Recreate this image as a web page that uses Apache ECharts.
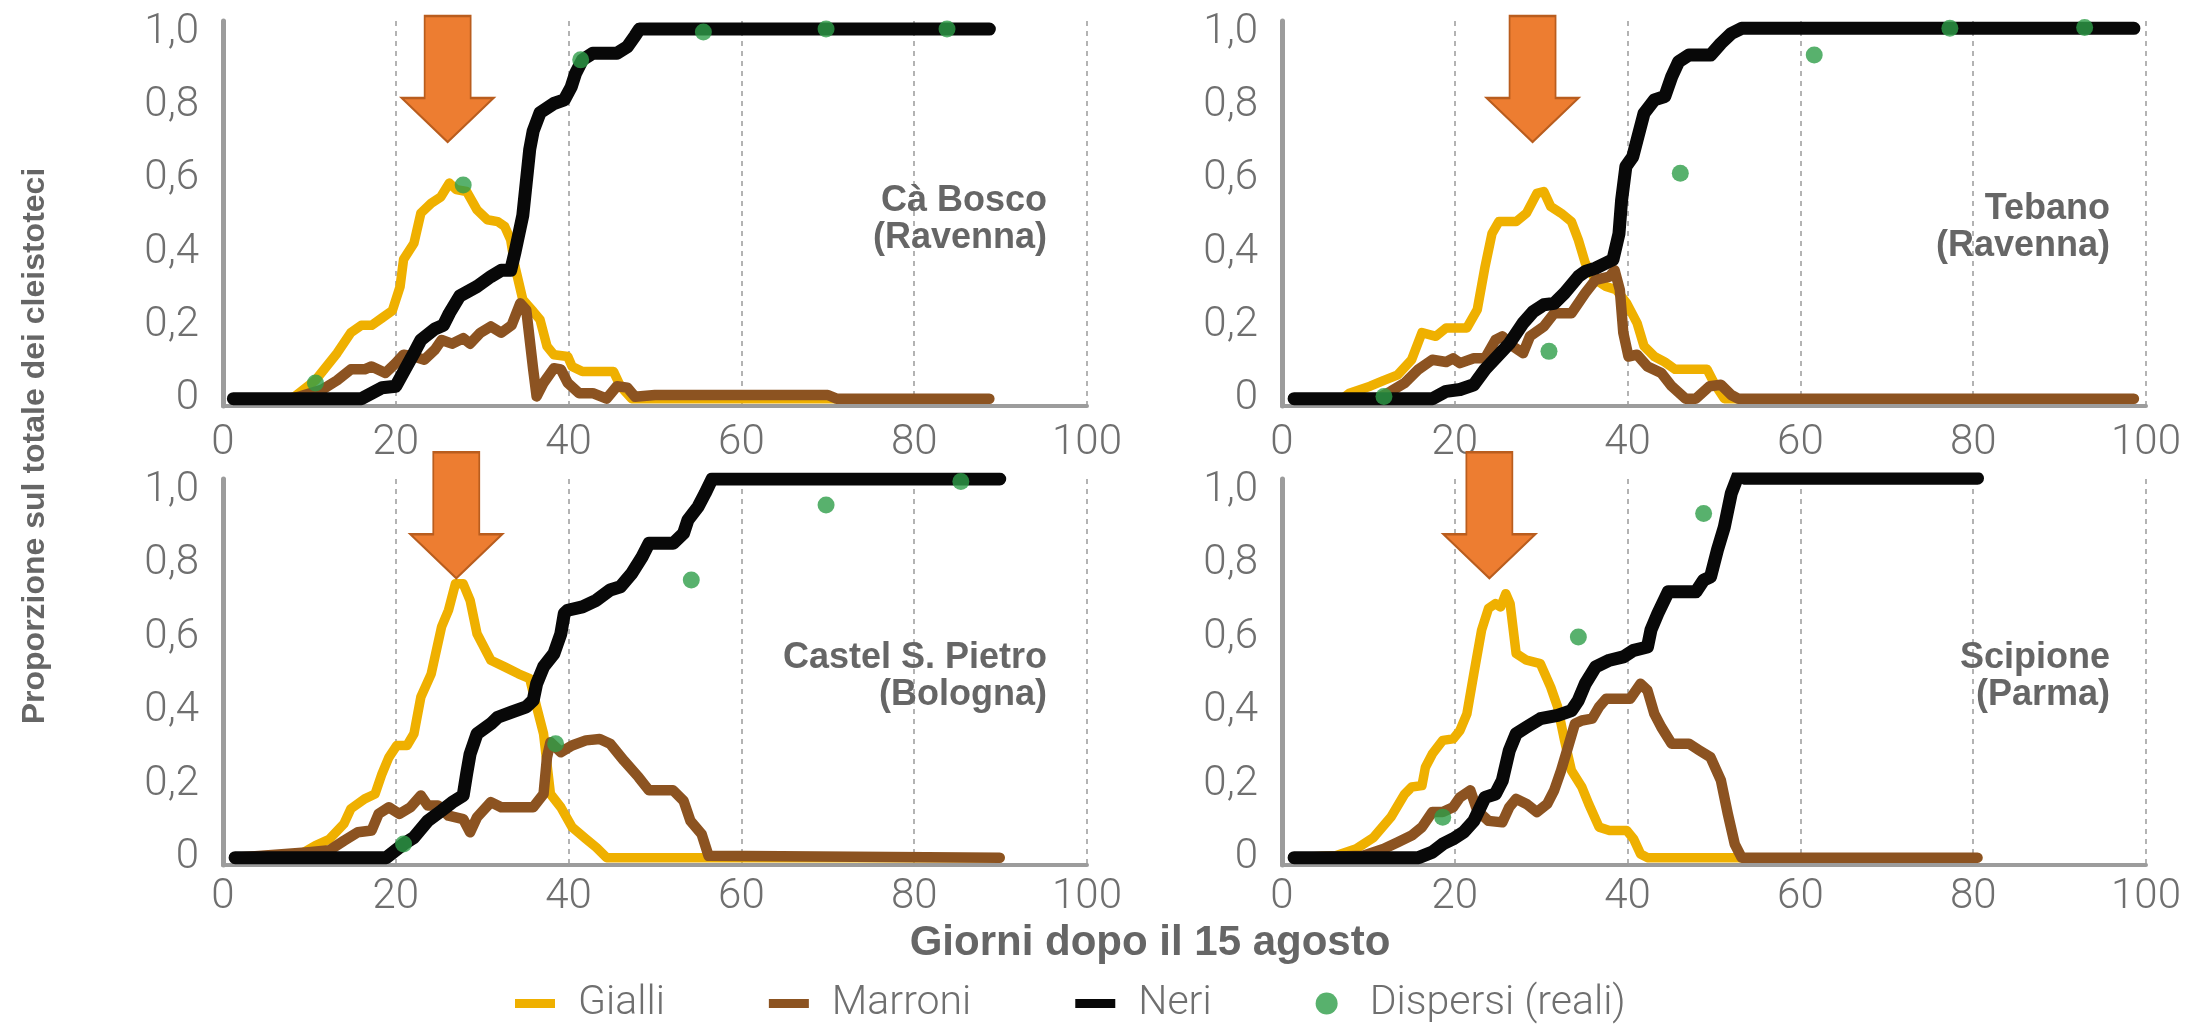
<!DOCTYPE html>
<html><head><meta charset="utf-8">
<script src="https://cdn.jsdelivr.net/npm/echarts@6/dist/echarts.min.js"></script>
<style>html,body{margin:0;padding:0;background:#fff}#c{width:2188px;height:1024px}</style>
</head><body><div id="c"></div>
<script>
// ---------------- DATA ----------------
const panelNames = ['Cà Bosco\n(Ravenna)', 'Tebano\n(Ravenna)', 'Castel S. Pietro\n(Bologna)', 'Scipione\n(Parma)'];
const seriesNames = ['Gialli', 'Marroni', 'Neri', 'Dispersi (reali)'];
const xTicks = [0, 20, 40, 60, 80, 100];
const yTicks = [0, 0.2, 0.4, 0.6, 0.8, 1.0];

// Cà Bosco (Ravenna)
const caBoscoGialli = [[1.2,0],[7.5,0],[8.3,0.006],[10.7,0.05],[13.2,0.124],[14.8,0.18],[16,0.2],[17.2,0.2],[18.4,0.22],[19.6,0.24],[20.5,0.306],[20.9,0.38],[22.1,0.424],[22.9,0.506],[24.1,0.533],[25.2,0.55],[26.2,0.588],[27,0.57],[28.2,0.565],[29.4,0.515],[30.6,0.488],[31.8,0.483],[32.6,0.47],[33.3,0.433],[33.8,0.36],[34.7,0.27],[35.9,0.238],[36.7,0.215],[37.5,0.143],[38.3,0.12],[39.9,0.115],[40.4,0.088],[41.6,0.074],[45.2,0.074],[46,0.034],[47.3,0],[88.7,0]];
const caBoscoMarroni = [[1.2,0],[8,0],[11.5,0.025],[13.2,0.05],[14.8,0.08],[16.4,0.08],[17.2,0.088],[18.8,0.07],[20,0.097],[20.9,0.12],[22.1,0.115],[23.3,0.106],[24.5,0.133],[25.3,0.16],[26.5,0.15],[27.8,0.165],[28.6,0.15],[29.8,0.18],[31,0.197],[32.2,0.18],[33.4,0.2],[34.4,0.26],[35.1,0.242],[35.9,0.08],[36.3,0.006],[37.1,0.043],[38.3,0.083],[39.1,0.08],[39.9,0.043],[41.2,0.015],[42.8,0.015],[44.4,0],[45.6,0.034],[46.8,0.03],[47.7,0.005],[50,0.01],[70,0.01],[71,0],[88.7,0]];
const caBoscoNeri = [[1.2,0],[16,0],[18.4,0.03],[20,0.034],[22.1,0.124],[22.9,0.16],[24.5,0.19],[25.5,0.2],[26.2,0.233],[27.4,0.28],[29.4,0.306],[31,0.333],[32.2,0.35],[33.3,0.35],[33.8,0.4],[34.7,0.5],[35.5,0.68],[35.9,0.73],[36.7,0.78],[38.3,0.805],[39.5,0.815],[40.3,0.85],[40.8,0.887],[41.6,0.924],[42.8,0.942],[45.6,0.942],[46.8,0.96],[47.7,0.99],[48.2,1.008],[88.7,1.008]];
const caBoscoDispersi = [[10.7,0.043],[27.8,0.583],[41.4,0.924],[55.6,1.0],[69.8,1.008],[83.8,1.008]];

// Tebano (Ravenna)
const tebanoGialli = [[1.4,0],[7,0],[7.8,0.015],[10.2,0.034],[11.8,0.05],[13.4,0.065],[15,0.106],[16.2,0.18],[17.8,0.17],[19,0.193],[21.4,0.193],[22.6,0.243],[23.5,0.36],[24.3,0.45],[25.1,0.483],[27.1,0.483],[28.3,0.506],[29.5,0.56],[30.3,0.565],[31.1,0.524],[32.3,0.506],[33.5,0.483],[34.3,0.433],[35.1,0.37],[36.3,0.324],[37.5,0.306],[38.7,0.297],[39.9,0.26],[41.1,0.206],[41.9,0.143],[43.1,0.115],[44.3,0.1],[45.5,0.08],[49.2,0.08],[50,0.043],[51.2,0],[98.6,0]];
const tebanoMarroni = [[1.4,0],[11,0],[12.6,0.02],[14.2,0.043],[15.8,0.08],[17.4,0.106],[19,0.1],[19.8,0.11],[20.6,0.097],[22.2,0.11],[23.5,0.11],[24.7,0.16],[25.5,0.17],[26.7,0.143],[27.9,0.124],[28.7,0.17],[30.3,0.197],[31.5,0.233],[33.5,0.233],[35.1,0.288],[36.3,0.324],[37.9,0.333],[38.5,0.35],[39.1,0.297],[39.5,0.18],[40.1,0.115],[41.1,0.12],[42.3,0.088],[43.9,0.07],[45.1,0.034],[46.7,0],[47.9,0],[49.5,0.034],[50.8,0.038],[52,0.01],[52.8,0],[98.6,0]];
const tebanoNeri = [[1.4,0],[17.4,0],[19,0.02],[20.6,0.025],[22.2,0.038],[23.5,0.08],[24.7,0.11],[26.3,0.15],[27.9,0.206],[29.1,0.238],[30.3,0.256],[31.5,0.26],[32.7,0.288],[34.3,0.333],[35.1,0.347],[36.3,0.356],[37.5,0.37],[38.3,0.379],[39,0.45],[39.3,0.54],[39.8,0.633],[40.6,0.66],[41.1,0.706],[41.9,0.778],[43.1,0.815],[44.3,0.824],[45.1,0.878],[45.9,0.919],[47.1,0.937],[49.6,0.937],[50.8,0.969],[52,0.996],[53.2,1.01],[98.6,1.01]];
const tebanoDispersi = [[11.8,0.006],[30.9,0.129],[46.1,0.615],[61.6,0.937],[77.3,1.01],[92.9,1.012]];

// Castel S. Pietro (Bologna)
const castelGialli = [[1.4,0],[8.3,0],[10.7,0.033],[12.3,0.05],[14,0.092],[14.8,0.133],[16.4,0.16],[17.6,0.173],[18.4,0.228],[19.2,0.273],[20.1,0.305],[21.3,0.305],[22.1,0.337],[22.9,0.437],[24.1,0.5],[25.3,0.628],[26.1,0.673],[26.9,0.745],[27.8,0.745],[28.6,0.7],[29.4,0.609],[31,0.537],[32.6,0.519],[34.2,0.5],[35.5,0.487],[36.3,0.41],[37.1,0.337],[37.9,0.173],[39.1,0.137],[40.4,0.083],[42,0.051],[43.2,0.028],[44.4,0],[89.9,0]];
const castelMarroni = [[1.4,0],[9.9,0.015],[12.3,0.02],[14,0.046],[15.6,0.069],[17.2,0.074],[18,0.119],[19.2,0.137],[20.4,0.119],[21.7,0.137],[22.9,0.169],[23.7,0.142],[24.9,0.142],[26.1,0.114],[27.8,0.105],[28.6,0.069],[29.4,0.11],[31,0.151],[32.2,0.137],[35.9,0.137],[37.1,0.173],[37.5,0.273],[37.9,0.314],[39.1,0.287],[40.4,0.305],[42,0.319],[43.6,0.323],[44.8,0.31],[46.4,0.264],[48.1,0.219],[49.3,0.183],[52.1,0.183],[53.3,0.155],[54.1,0.1],[55.4,0.064],[56.2,0.005],[89.9,0]];
const castelNeri = [[1.4,0],[18.9,0],[20.9,0.037],[22.1,0.055],[23.7,0.1],[25.3,0.128],[26.5,0.15],[27.8,0.169],[28.2,0.228],[28.6,0.282],[29.4,0.337],[31,0.364],[31.8,0.382],[33.4,0.396],[35.1,0.41],[35.9,0.428],[36.3,0.473],[37.1,0.519],[38.3,0.555],[39.1,0.609],[39.5,0.664],[39.9,0.673],[41.6,0.682],[43.2,0.7],[44.8,0.728],[46,0.737],[47.3,0.773],[48.5,0.818],[49.3,0.855],[52.1,0.855],[53.3,0.882],[53.8,0.918],[55,0.955],[55.8,0.991],[56.6,1.03],[89.9,1.03]];
const castelDispersi = [[20.9,0.037],[38.5,0.31],[54.2,0.755],[69.8,0.959],[85.4,1.023]];

// Scipione (Parma)
const scipioneGialli = [[1.4,0],[6.2,0.005],[8.6,0.024],[10.6,0.055],[12.6,0.11],[14.2,0.173],[15,0.192],[16.2,0.196],[16.6,0.246],[17.4,0.282],[18.6,0.319],[19.8,0.323],[20.6,0.346],[21.4,0.391],[22.2,0.5],[23.1,0.619],[23.9,0.678],[24.7,0.691],[25.3,0.682],[25.9,0.718],[26.4,0.691],[27.1,0.555],[28.3,0.537],[29.9,0.528],[31.1,0.464],[31.9,0.41],[32.7,0.319],[33.5,0.237],[34.7,0.192],[35.5,0.146],[36.7,0.083],[37.9,0.074],[39.9,0.074],[40.7,0.051],[41.5,0.01],[42.3,0],[80.5,0]];
const scipioneMarroni = [[1.4,0],[9.4,0.005],[11.8,0.024],[13.4,0.042],[15,0.06],[16.2,0.083],[17.4,0.124],[18.6,0.124],[19.8,0.137],[20.6,0.164],[21.8,0.183],[22.6,0.128],[23.9,0.1],[25.5,0.096],[26.3,0.137],[27.1,0.16],[28.3,0.146],[29.5,0.124],[30.7,0.146],[31.5,0.183],[32.3,0.237],[33.1,0.3],[33.9,0.364],[34.7,0.373],[35.9,0.378],[36.7,0.41],[37.5,0.432],[40.3,0.432],[41.5,0.473],[42.3,0.455],[43.1,0.391],[43.9,0.355],[45.1,0.31],[47.1,0.31],[48.3,0.292],[49.6,0.273],[50.8,0.21],[51.6,0.119],[52.4,0.037],[53.2,0],[80.5,0]];
const scipioneNeri = [[1.4,0],[15.8,0],[17.4,0.015],[18.6,0.037],[19.8,0.051],[21,0.069],[22.2,0.1],[23.5,0.164],[24.7,0.173],[25.5,0.21],[26.3,0.291],[27.1,0.337],[28.3,0.355],[29.9,0.378],[31.9,0.387],[33.5,0.4],[34.3,0.428],[35.1,0.473],[36.3,0.519],[37.9,0.537],[39.5,0.546],[40.7,0.564],[42.3,0.573],[42.7,0.619],[43.5,0.664],[44.7,0.723],[47.9,0.723],[48.8,0.755],[49.6,0.764],[50.4,0.837],[51.2,0.9],[52,0.991],[52.8,1.04],[53.6,1.032],[80.5,1.032]];
const scipioneDispersi = [[18.6,0.11],[34.3,0.6],[48.8,0.936],[62.8,1.032],[76.7,1.032]];

// orange arrows: day where the arrow points, and value of its tip
const arrowDays = [26, 29, 27, 24];
const arrowTips = [0.70, 0.70, 0.76, 0.76];

// ---------------- CHART ----------------
const panels = [
  [caBoscoGialli, caBoscoMarroni, caBoscoNeri, caBoscoDispersi],
  [tebanoGialli, tebanoMarroni, tebanoNeri, tebanoDispersi],
  [castelGialli, castelMarroni, castelNeri, castelDispersi],
  [scipioneGialli, scipioneMarroni, scipioneNeri, scipioneDispersi]
];
const colors = ['#EFB000', '#8C5321', '#080808', '#2E9E48'];
const widths = [9.5, 10.5, 13];
const gridBoxes = [
  {left: 223, top: 21, width: 864, height: 385},
  {left: 1282, top: 21, width: 864, height: 385},
  {left: 223, top: 479, width: 864, height: 386},
  {left: 1282, top: 479, width: 864, height: 386}
];
const labelMargins = [16, 16, 11, 11];
const labelPos = [[1047, 220], [2110, 228], [1047, 677], [2110, 677]];
const tickColor = '#6f6f6f';
const titleColor = '#666666';
const axisGray = '#9c9c9c';
const arrowPath = 'path://M23,0 L69,0 L69,82 L92,82 L46,126 L0,82 L23,82 Z';

const grid = [], xAxis = [], yAxis = [], series = [], graphic = [];
gridBoxes.forEach((g, i) => {
  grid.push(Object.assign({containLabel: false}, g));
  xAxis.push({
    type: 'value', gridIndex: i, min: xTicks[0], max: xTicks[xTicks.length - 1], interval: 20,
    axisLine: {show: true, onZero: false, lineStyle: {color: axisGray, width: 4}},
    axisTick: {show: false},
    axisLabel: {fontSize: 42, fontFamily: 'Roboto', fontWeight: 300, color: tickColor, margin: labelMargins[i]},
    splitLine: {show: true, lineStyle: {color: '#9a9a9a', width: 1.5, type: [5, 5]}}
  });
  yAxis.push({
    type: 'value', gridIndex: i, min: -0.02, max: 1.03,
    axisLine: {show: true, onZero: false, lineStyle: {color: axisGray, width: 5}},
    axisTick: {show: false},
    axisLabel: {customValues: yTicks, fontSize: 42, fontFamily: 'Roboto', fontWeight: 300, color: tickColor, margin: 24,
      formatter: v => v === 0 ? '0' : v.toFixed(1).replace('.', ',')},
    splitLine: {show: false}
  });
  panels[i].forEach((d, k) => {
    if (k < 3) {
      const s = {
        type: 'line', name: seriesNames[k], xAxisIndex: i, yAxisIndex: i, data: d,
        showSymbol: false, symbol: 'none', color: colors[k], z: 2 + k,
        lineStyle: {color: colors[k], width: widths[k], cap: 'round', join: 'round'}
      };
      if (k === 0) {
        s.markPoint = {
          symbol: arrowPath, symbolSize: [92, 126], symbolOffset: [0, '-50%'], z: 10,
          itemStyle: {color: '#ED7D31', borderColor: '#B95D1E', borderWidth: 2},
          label: {show: false}, silent: true,
          data: [{coord: [arrowDays[i], arrowTips[i]]}]
        };
      }
      series.push(s);
    } else {
      series.push({
        type: 'scatter', name: seriesNames[k], xAxisIndex: i, yAxisIndex: i, data: d,
        symbol: 'circle', symbolSize: 17, color: colors[k], z: 6,
        itemStyle: {color: colors[k]}
      });
    }
  });
  graphic.push({
    type: 'text', x: labelPos[i][0], y: labelPos[i][1], z: 20,
    style: {text: panelNames[i], fill: titleColor, fontFamily: 'Liberation Sans', fontWeight: 'bold', fontSize: 36,
      lineHeight: 37, align: 'right', verticalAlign: 'middle', textAlign: 'right', textVerticalAlign: 'middle'}
  });
});

graphic.push({
  type: 'text', x: 35, y: 446, rotation: Math.PI / 2, z: 20,
  style: {text: 'Proporzione sul totale dei cleistoteci', fill: titleColor, fontFamily: 'Liberation Sans', fontWeight: 'bold', fontSize: 32,
    align: 'center', verticalAlign: 'middle', textAlign: 'center', textVerticalAlign: 'middle'}
});
graphic.push({
  type: 'text', x: 1150, y: 943, z: 20,
  style: {text: 'Giorni dopo il 15 agosto', fill: titleColor, fontFamily: 'Liberation Sans', fontWeight: 'bold', fontSize: 42,
    align: 'center', verticalAlign: 'middle', textAlign: 'center', textVerticalAlign: 'middle'}
});

const linePath = 'path://M0,0 L40,0 L40,9 L0,9 Z';
const option = {
  animation: false,
  backgroundColor: '#ffffff',
  grid, xAxis, yAxis, series, graphic,
  legend: {
    data: [
      {name: 'Gialli', icon: linePath},
      {name: 'Marroni', icon: linePath},
      {name: 'Neri', icon: linePath},
      {name: 'Dispersi (reali)', icon: 'circle'}
    ],
    left: 510, top: 978, itemWidth: 40, itemHeight: 22, itemGap: 104, symbolKeepAspect: true,
    itemStyle: {borderWidth: 0},
    textStyle: {fontSize: 41, fontFamily: 'Roboto', fontWeight: 300, color: tickColor, padding: [0, 0, 0, 18]}
  }
};
const chart = echarts.init(document.getElementById('c'), null, {renderer: 'canvas'});
chart.setOption(option);
</script></body></html>
